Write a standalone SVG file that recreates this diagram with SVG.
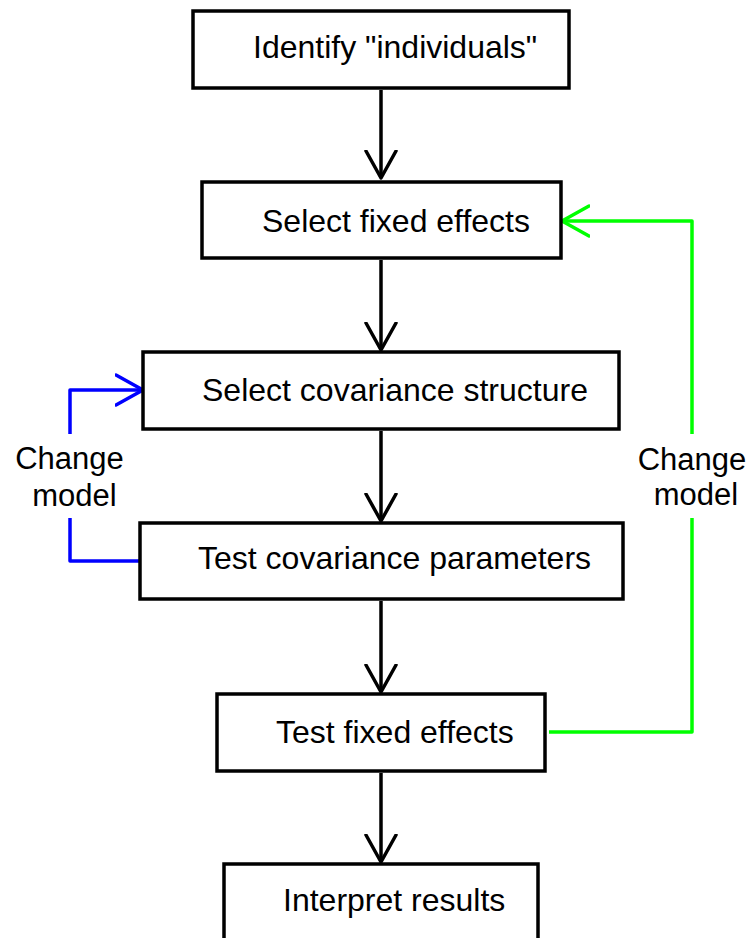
<svg xmlns="http://www.w3.org/2000/svg" width="754" height="938" viewBox="0 0 754 938">
<defs>
<style>
.box{fill:#fff;stroke:#000;stroke-width:3.5}
.lbl{font-family:"Liberation Sans",Arial,sans-serif;font-size:32px;fill:#000}
.side{font-family:"Liberation Sans",Arial,sans-serif;font-size:31px;fill:#000;text-anchor:middle}
.c{fill:none;stroke-width:3.5;stroke-linejoin:round}
.k{stroke:#000}
.b{stroke:#0000ff}
.g{stroke:#00ff00}
</style>
<marker id="ak" markerUnits="userSpaceOnUse" viewBox="0 0 30 34" markerWidth="30" markerHeight="34" refX="28" refY="17" orient="auto">
<path d="M1,2 L28,17 L1,32" fill="none" stroke="#000" stroke-width="3.5" stroke-linecap="round" stroke-linejoin="round"/>
</marker>
<marker id="ab" markerUnits="userSpaceOnUse" viewBox="0 0 30 34" markerWidth="30" markerHeight="34" refX="28" refY="17" orient="auto">
<path d="M1,2 L28,17 L1,32" fill="none" stroke="#0000ff" stroke-width="3.5" stroke-linecap="round" stroke-linejoin="round"/>
</marker>
<marker id="ag" markerUnits="userSpaceOnUse" viewBox="0 0 30 34" markerWidth="30" markerHeight="34" refX="28" refY="17" orient="auto">
<path d="M1,2 L28,17 L1,32" fill="none" stroke="#00ff00" stroke-width="3.5" stroke-linecap="round" stroke-linejoin="round"/>
</marker>
</defs>
<rect width="754" height="938" fill="#fff"/>
<g id="connectors">
<line class="c k" x1="381" y1="90" x2="381" y2="178" marker-end="url(#ak)"/>
<line class="c k" x1="381" y1="260" x2="381" y2="350" marker-end="url(#ak)"/>
<line class="c k" x1="381" y1="431" x2="381" y2="521" marker-end="url(#ak)"/>
<line class="c k" x1="381" y1="601" x2="381" y2="692" marker-end="url(#ak)"/>
<line class="c k" x1="381" y1="773" x2="381" y2="862" marker-end="url(#ak)"/>
<path class="c b" d="M70,434 V390 H143" marker-end="url(#ab)"/>
<path class="c b" d="M70,518 V561 H140"/>
<path class="c g" d="M549,732 H692 V518"/>
<path class="c g" d="M692,434 V221 H562" marker-end="url(#ag)"/>
<text class="side" x="69.5" y="469">Change</text>
<text class="side" x="74.5" y="506">model</text>
<text class="side" x="692" y="470">Change</text>
<text class="side" x="696" y="505">model</text>
</g>
<g id="n1"><rect class="box" x="193" y="11" width="376" height="77"/><text class="lbl" x="253" y="58">Identify "individuals"</text></g>
<g id="n2"><rect class="box" x="202" y="182" width="359" height="76"/><text class="lbl" x="262" y="232">Select fixed effects</text></g>
<g id="n3"><rect class="box" x="143" y="352" width="476" height="77"/><text class="lbl" x="202" y="401">Select covariance structure</text></g>
<g id="n4"><rect class="box" x="140" y="523" width="483" height="76"/><text class="lbl" x="198" y="569">Test covariance parameters</text></g>
<g id="n5"><rect class="box" x="217" y="694" width="328" height="77"/><text class="lbl" x="276" y="743">Test fixed effects</text></g>
<g id="n6"><rect class="box" x="224" y="864" width="314" height="90"/><text class="lbl" x="283" y="911">Interpret results</text></g>
</svg>
